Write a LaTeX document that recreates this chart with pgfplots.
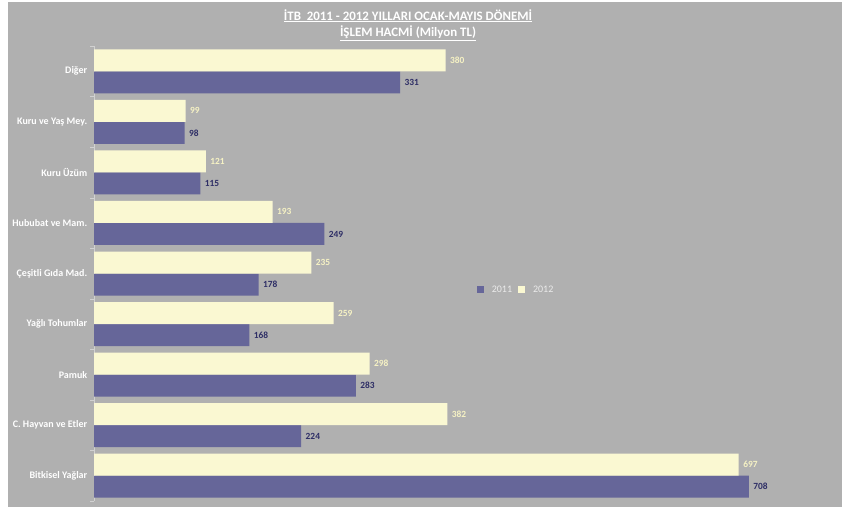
\documentclass[border=0pt]{standalone}
\usepackage{pgfplots}
\pgfplotsset{compat=1.18}
\usepackage{fontspec}
\setmainfont{Carlito}

\definecolor{bgray}{HTML}{B0B0B0}
\definecolor{c2011}{HTML}{666699}
\definecolor{c2012}{HTML}{FAF8D2}
\definecolor{lab2011}{HTML}{2E2E66}
\definecolor{lab2012}{HTML}{F6F2C4}

% values: 2011, 2012 (bottom to top)
\pgfplotstableread{
y v2011 v2012
0 708 697
1 224 382
2 283 298
3 168 259
4 178 235
5 249 193
6 115 121
7 98 99
8 331 380
}\itbdata

\begin{document}
\begin{tikzpicture}[x=1pt,y=1pt]
\path[use as bounding box, fill=white] (0,0) rectangle (851,507);
\fill[bgray] (8,0) rectangle (842,505);
\node[text=white, font=\bfseries\fontsize{12.9}{16}\selectfont, align=center] at (408,482)
  {\underline{İTB\ \ 2011 - 2012 YILLARI OCAK-MAYIS DÖNEMİ}\\[0.5pt]\underline{İŞLEM HACMİ (Milyon TL)}};
\begin{axis}[
  at={(94pt,6pt)}, anchor=south west,
  width=703pt, height=455pt, scale only axis,
  xbar, bar width=22pt,
  xmin=0, xmax=760,
  ymin=-0.5, ymax=8.5,
  axis x line=none,
  axis y line*=left,
  y axis line style={draw=black!18},
  ytick={0,...,8},
  yticklabels={Bitkisel Yağlar, C. Hayvan ve Etler, Pamuk, Yağlı Tohumlar, Çeşitli Gıda Mad., Hububat ve Mam., Kuru Üzüm, Kuru ve Yaş Mey., Diğer},
  major y tick style={draw=none},
  minor ytick={-0.5,0.5,...,8.5},
  minor y tick style={draw=black!18},
  minor tick length=4pt,
  tick align=outside,
  yticklabel style={text=white, font=\bfseries\fontsize{10}{12}\selectfont, xshift=1pt},
  nodes near coords,
  /pgf/number format/assume math mode=true,
  nodes near coords style={font=\bfseries\fontsize{9.4}{11}\selectfont, anchor=west, xshift=1pt},
  legend style={at={(0.54,0.464)}, anchor=west, draw=none, fill=none,
    text=white!92!black, font=\fontsize{10}{12}\selectfont, column sep=4pt,
    /tikz/every odd column/.append style={column sep=6pt}},
  legend columns=2,
  legend image code/.code={\fill[#1] (0pt,-3.5pt) rectangle (7pt,3.5pt);},
]
\addplot[draw=none, fill=c2011, bar shift=-11pt, nodes near coords style={text=lab2011}]
  table[x=v2011, y=y] {\itbdata};
\addplot[draw=none, fill=c2012, bar shift=11pt, nodes near coords style={text=lab2012}]
  table[x=v2012, y=y] {\itbdata};
\legend{2011, 2012}
\end{axis}
\end{tikzpicture}
\end{document}
